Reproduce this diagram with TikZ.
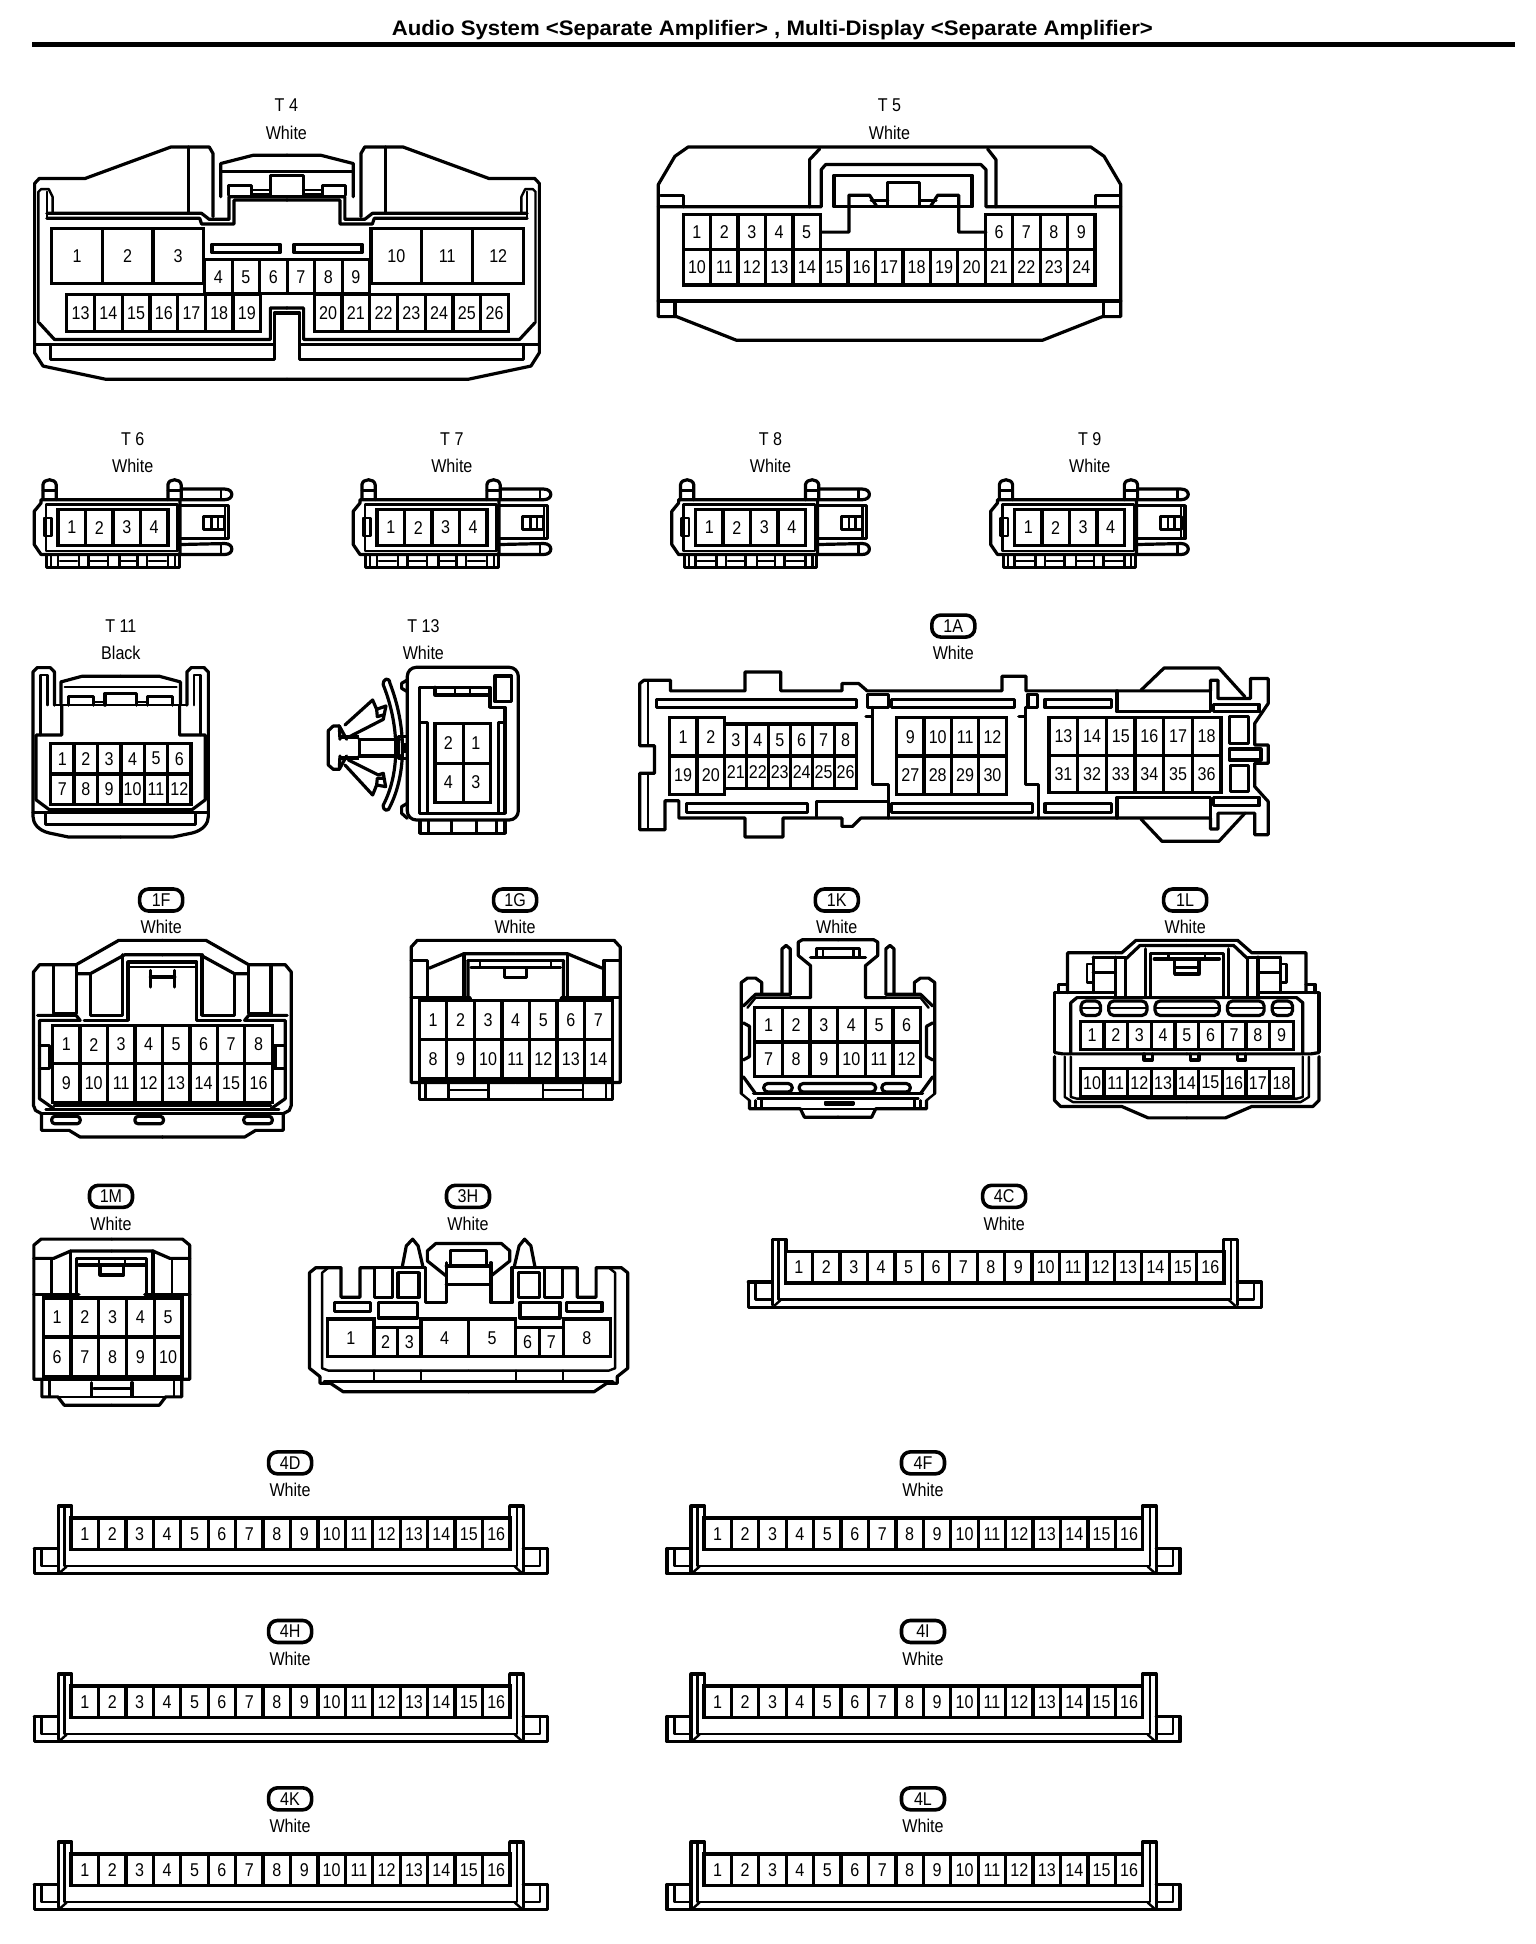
\documentclass[tikz,border=0pt]{standalone}
\usepackage{fontspec}
\setmainfont{Liberation Sans}
\newfontfamily\pinfont[FakeStretch=0.87]{Liberation Sans}
\newfontfamily\titlefont[FakeStretch=1.057,BoldFont={Liberation Sans Bold}]{Liberation Sans}
\tikzset{
 fitmap/.code args={#1/#2/#3/#4/#5/#6/#7/#8}{%
  \pgfmathsetmacro\sxx{(#6-#5)/(#2-#1)*1.2397}%
  \pgfmathsetmacro\syy{(#8-#7)/(#4-#3)*1.2397}%
  \pgfmathsetmacro\txx{#5*1.2397-#1*\sxx}%
  \pgfmathsetmacro\tyy{#7*1.2397-#3*\syy}%
  \tikzset{cm={\sxx,0,0,-\syy,(\txx pt,-\tyy pt)}}},
 mirrorx/.style={shift={({2*#1},0)},xscale=-1},
 shell/.style={line width=3.2pt,line join=round,line cap=round},
 fine/.style={line width=2.4pt,line join=round,line cap=round},
 pinline/.style={line width=3.3pt,line join=miter},
 pinlab/.style={inner sep=0pt,font=\pinfont\fontsize{18.5}{20}\selectfont},
 lab/.style={inner sep=0pt,font=\pinfont\fontsize{18.5}{20}\selectfont},
 badge/.style={draw,line width=3.6pt,rounded corners=9pt,minimum width=43pt,minimum height=22pt,inner sep=0pt,font=\pinfont\fontsize{18.5}{20}\selectfont},
}
\newcommand\both[2]{#2\begin{scope}[mirrorx=#1]#2\end{scope}}
\newcommand\pinrow[7]{%
 \draw[pinline] (#2,#4) rectangle (#3,#5);
 \foreach \i in {1,...,#6}{%
  \pgfmathsetmacro\cx{#2+(#3-#2)/#6*(\i-0.5)}%
  \pgfmathsetmacro\cy{(#4+#5)/2}%
  \pgfmathtruncatemacro\lbl{#7+\i-1}%
  \node[pinlab] (#1-\lbl) at (\cx,\cy) {\lbl};
  \ifnum\i<#6\relax
   \pgfmathsetmacro\dx{#2+(#3-#2)/#6*\i}%
   \draw[pinline] (\dx,#4) -- (\dx,#5);
  \fi}}
\newcommand\tlab[5]{\node[lab] (#1-id) at (#2,#3) {#4};\node[lab] (#1-col) at (#2,#3+22) {#5};}
\newcommand\blab[4]{\node[badge] (#1-id) at (#2,#3) {#1};\node[lab] (#1-col) at (#2,#3+22) {#4};}
\newcommand\smallconn[2]{% prefix, x shift main
 \pgfmathsetmacro\ma{27+#2}\pgfmathsetmacro\mb{188+#2}
 \begin{scope}[fitmap={85/612/180/445/\ma/\mb/387/458}]
  \draw[shell] (105,240) -- (472,240) -- (472,405) -- (105,405) -- (87,375) -- (87,275) -- (105,250) -- cycle;
  \draw[fine] (118,255) rectangle (465,395);
  \draw[fine] (113,295) rectangle (133,350);
  \draw[shell] (110,240) -- (110,195) .. controls (112,175) and (143,175) .. (145,195) -- (145,240);
  \draw[fine] (110,212) -- (145,212);
  \draw[shell] (440,240) -- (440,195) .. controls (442,175) and (473,175) .. (475,195) -- (475,240);
  \draw[fine] (440,212) -- (475,212);
  \draw[shell] (475,208) -- (590,208) .. controls (615,208) and (615,240) .. (590,240) -- (475,240);
  \draw[fine] (580,208) -- (580,240);
  \draw[shell] (472,375) -- (590,372) .. controls (615,372) and (615,405) .. (590,405) -- (472,405);
  \draw[fine] (580,372) -- (580,405);
  \draw[shell] (472,258) -- (600,258) -- (600,358) -- (472,358);
  \draw[fine] (590,258) -- (590,358);
  \draw[shell] (535,290) rectangle (590,330);
  \draw[fine] (555,290) -- (555,330) (572,290) -- (572,330);
  \draw[shell] (120,405) -- (120,443) -- (470,443) -- (470,405);
  \foreach \v in {132,150,205,230,282,312,360,385,440,458}{\draw[fine] (\v,405) -- (\v,443);}
  \foreach \a/\b in {155/200,235/280,315/358,390/435}{\draw[fine] (\a,425) -- (\b,425);}
  \pinrow{#1}{150}{440}{270}{378}{4}{1}
 \end{scope}}
\newcommand\barconn[3]{% prefix, x shift, y shift, zoom 9 coordinates
 \pgfmathsetmacro\ma{27+#2}\pgfmathsetmacro\mb{442+#2}\pgfmathsetmacro\mc{1214+#3}\pgfmathsetmacro\md{1270+#3}
 \begin{scope}[fitmap={88/1483/192/404/\ma/\mb/\mc/\md}]
  \both{785.5}{
   \draw[shell] (90,325) -- (155,325);
   \draw[shell] (785,402) -- (90,402) -- (90,325);
   \draw[fine] (110,325) -- (110,378) -- (155,378);
   \draw[shell] (155,395) -- (155,195) -- (192,195) -- (192,232);
   \draw[fine] (172,195) -- (172,378) -- (785,378);
   \draw[fine] (160,398) -- (178,380);
  }
  \pinrow{#1}{190}{1380}{232}{328}{16}{1}
 \end{scope}}
\begin{document}
\begin{tikzpicture}[x=1pt,y=1pt]
\useasboundingbox (0,0) rectangle (1536,-1944);
\fill[white] (0,0) rectangle (1536,-1944);
% title and labels in overview coordinates
\begin{scope}[x=1.2397pt,y=-1.2397pt]
 \node[inner sep=0pt,font=\titlefont\fontsize{21}{24}\selectfont\bfseries] (title) at (623,24.5) {Audio System <Separate Amplifier> , Multi-Display <Separate Amplifier>};
 \fill (26,34) rectangle (1222,38);
 \tlab{T4}{231}{85}{T 4}{White}
 \tlab{T5}{717.5}{85}{T 5}{White}
 \tlab{T6}{107}{354}{T 6}{White}
 \tlab{T7}{364.5}{354}{T 7}{White}
 \tlab{T8}{621.5}{354}{T 8}{White}
 \tlab{T9}{879}{354}{T 9}{White}
 \tlab{T11}{97.5}{505}{T 11}{Black}
 \tlab{T13}{341.5}{505}{T 13}{White}
 \blab{1A}{769}{505}{White}
 \blab{1F}{130}{726}{White}
 \blab{1G}{415.5}{726}{White}
 \blab{1K}{675}{726}{White}
 \blab{1L}{956}{726}{White}
 \blab{1M}{89.5}{965}{White}
 \blab{3H}{377.5}{965}{White}
 \blab{4C}{810}{965}{White}
 \blab{4D}{234}{1180}{White}
 \blab{4F}{744.5}{1180}{White}
 \blab{4H}{234}{1316}{White}
 \blab{4I}{744.5}{1316}{White}
 \blab{4K}{234}{1451}{White}
 \blab{4L}{744.5}{1451}{White}
\end{scope}
% T4
\begin{scope}[fitmap={85/1412/438/1140/27/436/118/306}]
 \both{748.5}{
  \draw[shell] (749,1140) -- (275,1140) -- (110,1100) -- (88,1060) -- (88,550) -- (100,535) -- (220,535) -- (445,440) -- (545,440) -- (555,460) -- (555,650);
  \draw[shell] (120,655) -- (520,655) -- (525,672) -- (610,672) -- (610,600) -- (749,600);
  \draw[shell] (120,640) -- (525,640) -- (545,658) -- (597,658) -- (597,590) -- (749,590);
  \draw[shell] (749,465) -- (660,465) -- (575,490) -- (575,590);
  \draw[shell] (575,515) -- (749,515);
  \draw[shell] (595,585) -- (595,555) -- (655,555) -- (655,585);
  \draw[fine] (655,570) -- (705,570) (655,583) -- (705,583);
  \draw[shell] (705,585) -- (705,525) -- (749,525);
  \draw[shell] (490,440) -- (490,640);
  \draw[fine] (98,970) -- (98,575) -- (105,567) -- (125,567) -- (135,590) -- (135,640);
  \draw[fine] (120,575) -- (120,655);
  \draw[shell] (100,970) -- (140,1020) -- (705,1020) -- (705,925) -- (749,925);
  \draw[shell] (88,1035) -- (715,1035);
  \draw[shell] (130,1035) -- (130,1080) -- (715,1080) -- (715,940) -- (749,940);
  \draw[shell] (552,733) rectangle (730,758);
 }
 \pinrow{T4}{133}{530}{686}{852}{3}{1}
 \pinrow{T4}{533}{965}{780}{882}{6}{4}
 \pinrow{T4}{968}{1368}{686}{852}{3}{10}
 \pinrow{T4}{172}{680}{885}{995}{7}{13}
 \pinrow{T4}{820}{1328}{885}{995}{7}{20}
\end{scope}
% T5
\begin{scope}[fitmap={115/1505/200/785/531/904/118/275}]
 \draw[shell] (115,315) -- (165,230) -- (205,202) -- (1415,202) -- (1455,230) -- (1505,315) -- (1505,712) -- (1450,712) -- (1270,783) -- (350,783) -- (170,712) -- (115,712) -- cycle;
 \draw[shell] (115,382) -- (605,382) -- (605,270) -- (618,255) -- (1085,255) -- (1100,270) -- (1100,382) -- (1505,382);
 \draw[shell] (570,382) -- (570,240) -- (600,208) (1105,208) -- (1130,240) -- (1130,382);
 \draw[shell] (122,347) -- (190,347) -- (190,382) (1430,382) -- (1430,347) -- (1500,347);
 \draw[shell] (643,287) rectangle (1058,382);
 \draw[shell] (605,458) -- (688,458) -- (688,347) -- (750,347) -- (770,378);
 \draw[shell] (1100,458) -- (1018,458) -- (1018,347) -- (955,347) -- (935,378);
 \draw[shell] (755,363) -- (805,363) (900,363) -- (950,363);
 \draw[shell] (805,378) -- (805,310) -- (900,310) -- (900,378);
 \draw[shell] (115,665) -- (1505,665);
 \draw[shell] (165,665) -- (165,712) (1453,665) -- (1453,712);
 \pinrow{T5}{190}{602}{405}{510}{5}{1}
 \pinrow{T5}{1098}{1428}{405}{510}{4}{6}
 \pinrow{T5}{190}{1428}{510}{617}{15}{10}
\end{scope}
% T6-T9
\smallconn{T6}{0}
\smallconn{T7}{257.3}
\smallconn{T8}{514.3}
\smallconn{T9}{771.5}
% T11
\begin{scope}[fitmap={85/548/740/1255/26/169/538/676}]
 \both{316}{
  \draw[shell] (316,1252) -- (180,1252) -- (130,1240) .. controls (100,1232) and (87,1210) .. (87,1190) -- (87,755) -- (98,742) -- (132,742) -- (143,755) -- (143,855);
  \draw[fine] (107,945) -- (107,765) -- (125,765) -- (125,855);
  \draw[shell] (162,855) -- (162,945) -- (95,945) -- (95,1140) -- (130,1170) -- (316,1170);
  \draw[shell] (160,850) -- (160,785) -- (215,768) -- (316,768);
  \draw[fine] (170,800) -- (316,800);
  \draw[fine] (143,855) -- (316,855);
  \draw[shell] (180,855) -- (180,830) -- (245,830) -- (245,855);
  \draw[shell] (275,855) -- (275,820) -- (316,820);
  \draw[fine] (245,845) -- (275,845);
  \draw[shell] (87,1178) -- (316,1178);
  \draw[shell] (120,1183) -- (120,1215) -- (316,1215);
 }
 \pinrow{T11}{133}{500}{970}{1062}{6}{1}
 \pinrow{T11}{133}{500}{1062}{1155}{6}{7}
\end{scope}
% T13 (crop coordinates)
\begin{scope}[fitmap={0/1000/0/1000/258.1/527/524.3/793.2}]
 \draw[shell,rounded corners=9pt] (262,52) rectangle (595,510);
 \draw[shell] (300,512) -- (300,550) -- (555,550) -- (555,512);
 \foreach \v in {325,395,470,530}{\draw[fine] (\v,512) -- (\v,550);}
 \draw[shell] (298,112) -- (510,112) -- (510,172) -- (555,172) -- (555,490) -- (298,490) -- cycle;
 \draw[fine] (298,218) -- (322,218) -- (322,490) (555,218) -- (535,218) -- (535,490);
 \draw[shell] (345,112) -- (345,135) -- (510,135);
 \draw[fine] (405,115) -- (405,135) (450,115) -- (450,135);
 \draw[shell] (525,78) rectangle (575,155);
 \draw[shell] (262,90) -- (245,100) -- (245,115) -- (262,125);
 \draw[shell] (262,460) -- (245,470) -- (245,490) -- (262,505);
 \draw[shell] (190,105) .. controls (240,230) and (240,370) .. (190,465) .. controls (188,485) and (208,485) .. (210,470) .. controls (260,370) and (260,230) .. (210,100) .. controls (208,80) and (188,85) .. (190,105) -- cycle;
 \draw[shell] (118,268) -- (240,268) (118,318) -- (240,318) (118,268) -- (118,318);
 \draw[line width=4pt] (60,262) -- (118,262) (60,325) -- (118,325);
 \draw[shell] (235,260) rectangle (262,325);
 \draw[line width=3pt] (247,285) rectangle (258,305);
 \draw[shell] (58,228) -- (40,228) -- (25,242) -- (25,345) -- (40,358) -- (58,358);
 \draw[shell] (58,228) -- (60,268) (58,358) -- (60,318);
 \draw[shell] (58,228) -- (80,268) (58,358) -- (80,318);
 \draw[shell] (75,225) -- (158,150) -- (170,178) -- (198,168) -- (190,208) -- (85,262);
 \draw[shell] (170,178) -- (172,200) -- (190,195);
 \draw[shell] (85,330) -- (175,375) -- (190,370) -- (197,410) -- (170,405) -- (158,435) -- (75,345);
 \draw[shell] (170,405) -- (172,385) -- (190,385);
 \draw[pinline] (345,220) rectangle (512,458);
 \draw[pinline] (430,220) -- (430,458) (345,340) -- (512,340);
 \node[pinlab] (T13-2) at (385,278) {2};
 \node[pinlab] (T13-1) at (468,278) {1};
 \node[pinlab] (T13-4) at (385,395) {4};
 \node[pinlab] (T13-3) at (468,395) {3};
\end{scope}
% 1A
\begin{scope}[fitmap={42/1540/200/730/515/1024/538/680}]
 \draw[shell] (45,250) -- (55,240) -- (118,240) -- (118,272) -- (295,272) -- (295,215) -- (380,215) -- (380,272) -- (525,272) -- (525,250) -- (565,250) -- (585,272) -- (905,272) -- (905,228) -- (962,228) -- (962,272) -- (1400,272) -- (1400,240) -- (1418,240) -- (1418,295) -- (1495,295) -- (1495,235) -- (1537,235) -- (1537,310) -- (1505,370) -- (1505,435) -- (1537,435) -- (1537,490) -- (1505,490) -- (1505,560) -- (1537,605) -- (1537,705) -- (1505,705) -- (1505,640) -- (1418,640) -- (1418,688) -- (1400,688) -- (1400,655) -- (570,655) -- (550,680) -- (525,680) -- (525,655) -- (385,655) -- (385,712) -- (295,712) -- (295,655) -- (138,655) -- (138,603) -- (105,603) -- (105,690) -- (45,690) -- (45,520) -- (80,520) -- (80,437) -- (45,437) -- cycle;
 \draw[fine] (65,240) -- (65,437) (65,520) -- (65,690);
 \draw[shell] (1235,270) -- (1290,203) -- (1420,203) -- (1482,290);
 \draw[shell] (1235,658) -- (1285,725) -- (1420,725) -- (1482,640);
 \draw[shell] (85,298) rectangle (560,322);
 \draw[shell] (643,298) rectangle (935,322);
 \draw[shell] (1007,298) rectangle (1165,322);
 \draw[shell] (157,612) rectangle (443,637);
 \draw[shell] (643,612) rectangle (978,637);
 \draw[shell] (1007,612) rectangle (1165,637);
 \draw[shell] (585,282) rectangle (635,322);
 \draw[shell] (967,282) rectangle (990,322);
 \draw[shell] (465,650) -- (465,605) -- (635,605);
 \draw[shell] (598,322) -- (598,350) -- (582,350);
 \draw[shell] (598,350) -- (598,555) -- (635,555) -- (635,655);
 \draw[shell] (960,322) -- (960,350) -- (945,350);
 \draw[shell] (960,350) -- (960,555) -- (992,555) -- (992,655);
 \draw[shell] (1178,272) -- (1178,335) -- (1400,335) -- (1400,272);
 \draw[shell] (1178,655) -- (1178,593) -- (1400,593) -- (1400,655);
 \draw[shell] (1408,312) rectangle (1515,335);
 \draw[shell] (1408,593) rectangle (1515,618);
 \draw[shell] (1445,350) rectangle (1490,430);
 \draw[shell] (1445,447) rectangle (1520,480);
 \draw[shell] (1448,497) rectangle (1490,575);
 \pinrow{1A}{115}{247}{352}{468}{2}{1}
 \pinrow{1A}{115}{247}{468}{585}{2}{19}
 \pinrow{1A}{247}{560}{372}{468}{6}{3}
 \pinrow{1A}{247}{560}{468}{565}{6}{21}
 \pinrow{1A}{655}{915}{352}{468}{4}{9}
 \pinrow{1A}{655}{915}{468}{585}{4}{27}
 \pinrow{1A}{1017}{1425}{352}{467}{6}{13}
 \pinrow{1A}{1017}{1425}{467}{577}{6}{31}
\end{scope}
% 1F
\begin{scope}[fitmap={80/715/183/778/27/235/758/918}]
 \both{397.5}{
  \draw[shell] (100,705) -- (85,695) -- (80,680) -- (80,280) -- (95,258) -- (185,258) -- (290,185) -- (398,185);
  \draw[shell] (188,285) -- (220,285) -- (305,228) -- (398,228);
  \draw[shell] (130,262) -- (130,405) -- (185,405) -- (185,258);
  \draw[shell] (90,410) -- (185,410) -- (195,425) -- (95,425) -- (95,660) -- (130,690);
  \draw[shell] (220,285) -- (220,410) -- (300,410) -- (300,228);
  \draw[shell] (205,425) -- (313,425) -- (313,250) -- (398,250);
  \draw[fine] (313,265) -- (398,265);
  \draw[shell] (95,500) -- (120,500) -- (120,570) -- (95,570);
  \draw[shell] (100,705) -- (398,705);
  \draw[shell] (100,705) -- (100,755) -- (168,755) -- (195,775) -- (398,775);
  \draw[fine] (130,680) -- (398,680) (110,692) -- (398,692);
 }
 \draw[shell] (368,275) -- (368,325) (428,275) -- (428,325);
 \draw[shell] (368,295) -- (428,295);
 \foreach \a in {125,330,598}{\draw[shell,rounded corners=3pt] (\a,713) rectangle (\a+70,735);}
 \pinrow{1F}{127}{668}{440}{555}{8}{1}
 \pinrow{1F}{127}{668}{555}{672}{8}{9}
\end{scope}
% 1G
\begin{scope}[fitmap={1003/1522/183/665/331/501/758/888}]
 \both{1262.5}{
  \draw[shell] (1262,610) -- (1005,610) -- (1005,205) -- (1020,185) -- (1262,185);
  \draw[shell] (1005,245) -- (1045,245) -- (1045,350);
  \draw[shell] (1050,268) -- (1135,225) -- (1262,225);
  \draw[shell] (1135,225) -- (1135,350);
  \draw[shell] (1145,245) -- (1262,245);
  \draw[shell] (1152,265) -- (1262,265);
  \draw[shell] (1145,245) -- (1145,355) -- (1152,362);
  \draw[fine] (1175,250) -- (1175,265);
  \draw[shell] (1005,355) -- (1150,355);
  \draw[shell] (1235,270) -- (1235,295) -- (1262,295);
  \draw[shell] (1025,610) -- (1025,660) -- (1262,660);
  \draw[fine] (1040,610) -- (1040,660) (1097,610) -- (1097,660) (1195,610) -- (1195,660);
  \draw[fine] (1100,632) -- (1192,632);
 }
 \pinrow{1G}{1025}{1500}{365}{482}{7}{1}
 \pinrow{1G}{1025}{1500}{482}{600}{7}{8}
\end{scope}
% 1K
\begin{scope}[fitmap={97/575/183/713/597/754/758/902}]
 \both{337.5}{
  \draw[shell] (100,640) -- (100,310) -- (115,297) -- (135,297) -- (150,310) -- (150,345);
  \draw[shell] (105,380) -- (135,345) -- (220,345);
  \draw[fine] (115,385) -- (135,355) -- (220,355);
  \draw[shell] (105,430) -- (120,440) -- (120,530) -- (105,540);
  \draw[shell] (105,590) -- (135,640);
  \draw[fine] (100,640) -- (120,660);
  \draw[shell] (200,345) -- (200,210) -- (210,200) -- (220,210) -- (220,345);
  \draw[shell] (220,355) -- (270,355) -- (270,260) -- (240,230) -- (240,190) -- (250,183) -- (338,183);
  \draw[shell] (270,235) -- (338,235);
  \draw[shell] (285,235) -- (285,210) -- (338,210);
  \draw[fine] (300,210) -- (300,235);
  \draw[shell] (130,640) -- (338,640);
  \draw[fine] (140,655) -- (338,655);
  \draw[shell] (120,660) -- (120,685) -- (245,685) -- (255,710) -- (338,710);
  \draw[fine] (135,660) -- (135,685) (150,660) -- (150,685);
  \draw[fine] (245,685) -- (338,685);
 }
 \draw[fine] (305,665) rectangle (375,672);
 \draw[shell,rounded corners=4pt] (155,610) rectangle (225,635);
 \draw[shell,rounded corners=4pt] (242,610) rectangle (430,635);
 \draw[shell,rounded corners=4pt] (445,610) rectangle (515,635);
 \pinrow{1K}{133}{540}{385}{487}{6}{1}
 \pinrow{1K}{133}{540}{487}{590}{6}{7}
\end{scope}
% 1L
\begin{scope}[fitmap={863/1515/183/713/850/1064/758/902}]
 \both{1190}{
  \draw[shell] (897,340) -- (897,222) -- (1030,222) -- (1065,185) -- (1190,185);
  \draw[shell] (865,515) -- (865,340) -- (1015,340);
  \draw[shell] (875,340) -- (875,315) -- (897,315);
  \draw[shell] (865,530) -- (865,660) -- (880,678) -- (1030,678) -- (1095,712) -- (1190,712);
  \draw[shell] (865,518) -- (885,522) -- (1190,522);
  \draw[shell] (905,520) -- (905,370) -- (920,355) -- (1190,355);
  \draw[fine] (890,530) -- (890,650) -- (910,665) -- (1190,665);
  \draw[fine] (905,530) -- (905,650) -- (920,655) -- (1190,655);
  \draw[shell] (1040,240) -- (1075,200) -- (1190,200);
  \draw[shell] (960,235) -- (1040,235);
  \draw[shell] (1015,235) -- (1015,350) (1040,240) -- (1040,350);
  \draw[shell] (1088,210) -- (1088,350);
  \draw[shell] (1100,350) -- (1100,225) -- (1190,225);
  \draw[shell] (1110,240) -- (1190,240);
  \draw[fine] (1145,228) -- (1145,240);
  \draw[shell] (1160,240) -- (1160,285) -- (1190,285);
  \draw[fine] (1160,265) -- (1190,265);
  \draw[shell] (960,235) -- (960,340);
  \draw[fine] (945,255) rectangle (960,310);
  \draw[shell] (960,280) -- (1015,280);
 }
 \foreach \a/\b in {930/978,998/1092,1112/1270,1290/1380,1400/1450}{\draw[shell,rounded corners=5pt] (\a,365) rectangle (\b,408);\draw[fine] (\a,385) -- (\b,385);}
 \foreach \a in {1085,1200,1315}{\draw[shell] (\a,522) -- (\a,540) -- (\a+20,540) -- (\a+20,522);}
 \pinrow{1L}{928}{1452}{425}{510}{9}{1}
 \pinrow{1L}{928}{1452}{565}{650}{9}{10}
\end{scope}
% 1M
\begin{scope}[fitmap={77/448/205/710/27/153/999/1134}]
 \both{263}{
  \draw[shell] (263,630) -- (78,630) -- (78,225) -- (95,207) -- (263,207);
  \draw[shell] (78,265) -- (125,265) -- (165,243) -- (263,243);
  \draw[fine] (120,265) -- (120,375);
  \draw[shell] (165,243) -- (165,375);
  \draw[shell] (78,375) -- (185,375);
  \draw[shell] (180,380) -- (180,265) -- (263,265);
  \draw[shell] (185,285) -- (263,285);
  \draw[fine] (232,268) -- (232,285);
  \draw[shell] (235,290) -- (235,315) -- (263,315);
  \draw[shell] (97,635) -- (97,683) -- (135,683) -- (150,708) -- (263,708);
  \draw[fine] (115,635) -- (115,683) -- (263,683);
  \draw[shell] (215,640) -- (215,680);
  \draw[fine] (220,658) -- (263,658);
 }
 \pinrow{1M}{100}{430}{385}{502}{5}{1}
 \pinrow{1M}{100}{430}{502}{622}{5}{6}
\end{scope}
% 3H
\begin{scope}[fitmap={733/1493/203/665/249/507/999/1124}]
 \both{1113}{
  \draw[shell] (760,615) -- (735,590) -- (735,305) -- (750,290) -- (810,290) -- (810,378) -- (855,378) -- (855,290) -- (890,290);
  \draw[fine] (765,590) -- (765,305) -- (778,292);
  \draw[fine] (765,590) -- (780,597) -- (1113,597);
  \draw[shell] (890,290) -- (890,378) -- (932,378) -- (932,290);
  \draw[shell] (890,290) -- (1010,290);
  \draw[shell] (945,305) rectangle (995,378);
  \draw[shell] (1010,290) -- (1010,395) -- (1060,395) -- (1060,275);
  \draw[shell] (1060,315) -- (1015,270) -- (1015,240) -- (1035,218) -- (1113,218);
  \draw[shell] (1060,285) -- (1113,285);
  \draw[shell] (1070,285) -- (1070,240) -- (1113,240);
  \draw[shell] (1060,340) -- (1113,340);
  \draw[shell] (955,290) -- (965,225) -- (980,205) -- (993,225) -- (1005,290);
  \draw[shell] (760,615) -- (760,635) -- (785,635) -- (815,660) -- (1113,660);
  \draw[shell] (770,630) -- (1113,630);
  \draw[fine] (888,597) -- (888,630) (1000,597) -- (1000,630);
 }
 \draw[shell] (795,393) rectangle (880,420);
 \draw[shell] (898,393) rectangle (992,440);
 \draw[shell] (1235,393) rectangle (1330,440);
 \draw[shell] (1345,393) rectangle (1430,420);
 \pinrow{3H}{778}{888}{443}{555}{1}{1}
 \pinrow{3H}{888}{1000}{468}{555}{2}{2}
 \pinrow{3H}{1000}{1225}{443}{555}{2}{4}
 \pinrow{3H}{1225}{1338}{468}{555}{2}{6}
 \pinrow{3H}{1338}{1450}{443}{555}{1}{8}
\end{scope}
% 16-way bars
\barconn{4C}{576}{-215}
\barconn{4D}{0}{0}
\barconn{4F}{510.5}{0}
\barconn{4H}{0}{135.5}
\barconn{4I}{510.5}{135.5}
\barconn{4K}{0}{271}
\barconn{4L}{510.5}{271}
\end{tikzpicture}
\end{document}
